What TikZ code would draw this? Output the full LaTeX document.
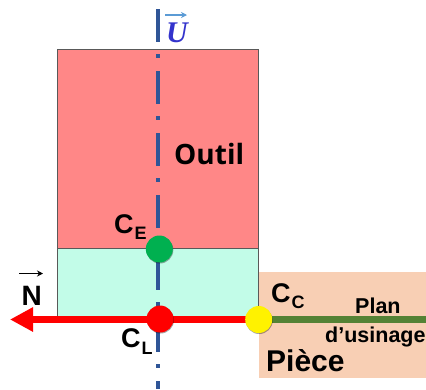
\documentclass[tikz,border=0pt]{standalone}
\usepackage{fontspec}
\setmainfont{Liberation Sans}
\newfontfamily\outilfont{Open Sans}
\newfontfamily\ufont{Liberation Serif}
\usetikzlibrary{arrows.meta,shadows}
\definecolor{toolred}{HTML}{FF8787}
\definecolor{mint}{HTML}{C2FCE8}
\definecolor{peach}{HTML}{F8CFB4}
\definecolor{axisblue}{HTML}{2F5597}
\definecolor{planegreen}{HTML}{548235}
\definecolor{ublue}{HTML}{3333CC}
\definecolor{uarrow}{HTML}{5B9BD5}
\definecolor{ptgreen}{HTML}{00B050}
\pgfdeclarelayer{zones}
\pgfdeclarelayer{lines}
\pgfsetlayers{zones,lines,main}
\newcommand{\subbed}[2]{\fontsize{27}{27}\selectfont #1\kern1pt\raisebox{-6.5pt}{\fontsize{18}{18}\selectfont #2}}
\tikzset{
  zone/.style={draw=#1,line width=1pt,anchor=north west,inner sep=0pt,outer sep=0pt},
  point/.style={circle,fill=#1,minimum size=27pt,inner sep=0pt,
    drop shadow={shadow xshift=0.5pt,shadow yshift=-1pt,opacity=.35,fill=black}},
  lbl/.style={font=\bfseries,text=black,inner sep=0pt,anchor=base west},
  axisline/.style={axisblue,line width=4pt,dash pattern=on 33pt off 12pt on 4pt off 13pt},
}
\begin{document}
\begin{tikzpicture}[x=1pt,y=-1pt]
\useasboundingbox (0,0) rectangle (426,389);
% points
\node[point=ptgreen] (ce) at (159.3,249) {};
\node[point=red] (cl) at (160,319) {};
\node[point=yellow] (cc) at (258.7,319.5) {};
% free ends
\coordinate (axistop) at (158,9);
\coordinate (axisbot) at (158,389);
\coordinate (nend) at (10,319.5);
\coordinate (planend) at (426,319.5);
\begin{pgfonlayer}{zones}
\node[zone=black!65,fill=toolred,minimum width=201.5pt,minimum height=199pt] (outil) at (57,49) {};
\node[zone=black!65,fill=mint,minimum width=201.5pt,minimum height=70pt] (contact) at (57,248) {};
\fill[peach] (259,272) rectangle (426,378);
\end{pgfonlayer}
\begin{pgfonlayer}{lines}
\draw[axisline] (axistop) -- (axisbot);
\draw[-{Triangle[length=23pt,width=23pt]},red,line width=7pt] (cc.center) -- (nend);
\draw[planegreen,line width=7pt] (cc.center) -- (planend);
\end{pgfonlayer}
% labels
\node[lbl] (tO) at (174,164) {\outilfont\bfseries\fontsize{28}{28}\selectfont Outil};
\node[lbl] (tCE) at (114,233) {\subbed{C}{E}};
\node[lbl] (tCL) at (121,347.5) {\subbed{C}{L}};
\node[lbl] (tCC) at (271,302) {\subbed{C}{C}};
\node[lbl] (tPlan) at (355,313) {\fontsize{21.5}{21.5}\selectfont Plan};
\node[lbl] (tUs) at (325,342) {\fontsize{21.5}{21.5}\selectfont d’usinage};
\node[lbl] (tP) at (266,371) {\fontsize{30}{30}\selectfont Pièce};
\node[lbl] (tN) at (21.5,305) {\fontsize{28}{28}\selectfont N};
\coordinate (nvl) at (19,273.5);
\coordinate (nvr) at (43,273.5);
\draw[-{Stealth[length=6pt,width=6pt]},black,line width=1.5pt] (nvl) -- (nvr);
\node[lbl] (tU) at (166,42) {\ufont\bfseries\itshape\fontsize{30}{30}\selectfont\textcolor{ublue}{U}};
\coordinate (uvl) at (165,15);
\coordinate (uvr) at (187,15);
\draw[-{Stealth[length=6pt,width=6pt]},uarrow,line width=1.2pt] (uvl) -- (uvr);
\end{tikzpicture}
\end{document}
